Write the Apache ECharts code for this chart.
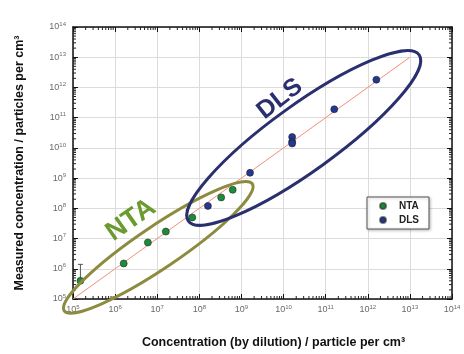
<!DOCTYPE html>
<html>
<head>
<meta charset="utf-8">
<script src="https://cdn.jsdelivr.net/npm/echarts@6/dist/echarts.min.js"></script>
<style>
html,body{margin:0;padding:0;background:#fff}
#chart{width:464px;height:354px}
</style>
</head>
<body>
<div id="chart"></div>
<script>
// values, particles per cm3
var ntaExpected = [1.5e5, 1.6e6, 6.0e6, 1.6e7, 6.8e7, 3.3e8, 6.2e8];
var ntaMeasured = [4.0e5, 1.5e6, 7.4e6, 1.7e7, 5.0e7, 2.3e8, 4.1e8];
var ntaErrorBar = [[1.5e5, 4.0e5, 1.4e6]];  // x, low, high

var dlsExpected = [1.6e8, 1.6e9, 1.6e10, 1.6e10, 1.6e10, 1.6e11, 1.6e12];
var dlsMeasured = [1.2e8, 1.5e9, 2.3e10, 1.6e10, 1.4e10, 1.9e11, 1.8e12];

var idealLine = [[1e5, 1e5], [1e13, 1e13]];

var axisMin = 1e5, axisMax = 1e14;
var decades = [5, 6, 7, 8, 9, 10, 11, 12, 13];
var minorMultipliers = [2, 3, 4, 5, 6, 7, 8, 9];

// ellipse annotations: two tips (log10 of value) + half width in px
var ntaLoop = {tips: [[4.79, 4.61], [9.26, 8.81]], half: 21, color: '#8c8b3e'};
var dlsLoop = {tips: [[7.74, 7.58], [13.22, 13.08]], half: 33, color: '#2a2f6e'};

var FONT = '"Liberation Sans", Arial, sans-serif';

function zip(a, b) {
	var out = [];
	for (var i = 0; i < a.length; i++) out.push([a[i], b[i]]);
	return out;
}

var minorTicks = [];
decades.forEach(function (d) {
	minorMultipliers.forEach(function (m) {
		minorTicks.push([m * Math.pow(10, d)]);
	});
});

var labelRich = {
	b: {fontSize: 9, color: '#6a6a6a', fontFamily: FONT},
	e: {fontSize: 6, color: '#6a6a6a', fontFamily: FONT, padding: [0, 0, 6, 0]}
};
function powLabel(v) {
	return '{b|10}{e|' + Math.round(Math.log10(v)) + '}';
}

var chart = echarts.init(document.getElementById('chart'));

var baseAxis = {
	type: 'log',
	logBase: 10,
	min: axisMin,
	max: axisMax,
	interval: 1,
	splitNumber: 9,
	axisLine: {show: true, onZero: false, lineStyle: {color: '#111', width: 1.5}},
	axisTick: {show: true, inside: true, length: 5, lineStyle: {color: '#111', width: 1}},
	splitLine: {show: false}
};

function mk(extra) {
	return Object.assign({}, JSON.parse(JSON.stringify(baseAxis)), extra);
}

var option = {
	animation: false,
	grid: {left: 73, right: 12, top: 27, bottom: 48, containLabel: false},
	xAxis: [
		mk({
			position: 'bottom',
			name: 'Concentration (by dilution) / particle per cm\u00b3',
			nameLocation: 'middle',
			nameGap: 37,
			nameTextStyle: {fontSize: 12.5, fontWeight: 'bold', color: '#111', fontFamily: FONT, padding: [0, 0, 0, 22]},
			axisLabel: {margin: 5, formatter: powLabel, rich: labelRich},
			splitLine: {show: true, lineStyle: {color: '#dcdcdc', width: 1}}
		}),
		mk({position: 'top', axisLabel: {show: false}})
	],
	yAxis: [
		mk({
			position: 'left',
			name: 'Measured concentration / particles per cm\u00b3',
			nameLocation: 'middle',
			nameGap: 47,
			nameTextStyle: {fontSize: 12.5, fontWeight: 'bold', color: '#111', fontFamily: FONT},
			axisLabel: {margin: 7, formatter: powLabel, rich: labelRich},
			splitLine: {show: true, lineStyle: {color: '#dcdcdc', width: 1}}
		}),
		mk({position: 'right', axisLabel: {show: false}})
	],
	legend: {
		data: ['NTA', 'DLS'],
		orient: 'vertical',
		left: 367,
		top: 197,
		padding: [4, 10, 4, 12],
		itemGap: 4,
		itemWidth: 6,
		itemHeight: 6,
		icon: 'circle',
		backgroundColor: '#fff',
		borderColor: '#555',
		borderWidth: 1,
		shadowColor: 'rgba(0,0,0,0.25)',
		shadowBlur: 3,
		shadowOffsetX: 1,
		shadowOffsetY: 1,
		textStyle: {fontSize: 10, fontWeight: 'bold', color: '#222', fontFamily: FONT, padding: [0, 0, 0, 8]}
	},
	series: [
		{
			name: 'ideal',
			type: 'line',
			data: idealLine,
			symbol: 'none',
			silent: true,
			lineStyle: {color: '#f2907a', width: 1},
			z: 2
		},
		{
			name: 'minor',
			type: 'custom',
			data: minorTicks,
			silent: true,
			clip: false,
			encode: {x: 0},
			renderItem: function (params, api) {
				var v = api.value(0);
				var cs = params.coordSys;
				var px = api.coord([v, axisMin])[0];
				var py = api.coord([axisMin, v])[1];
				var st = {stroke: '#222', lineWidth: 1};
				var kids = [];
				if (px > cs.x && px < cs.x + cs.width) {
					kids.push({type: 'line', shape: {x1: px, y1: cs.y + cs.height, x2: px, y2: cs.y + cs.height - 3}, style: st});
					kids.push({type: 'line', shape: {x1: px, y1: cs.y, x2: px, y2: cs.y + 3}, style: st});
				}
				if (py > cs.y && py < cs.y + cs.height) {
					kids.push({type: 'line', shape: {x1: cs.x, y1: py, x2: cs.x + 3, y2: py}, style: st});
					kids.push({type: 'line', shape: {x1: cs.x + cs.width, y1: py, x2: cs.x + cs.width - 3, y2: py}, style: st});
				}
				return {type: 'group', children: kids};
			},
			z: 3
		},
		{
			name: 'err',
			type: 'custom',
			data: ntaErrorBar,
			silent: true,
			encode: {x: 0, y: [1, 2]},
			renderItem: function (params, api) {
				var lo = api.coord([api.value(0), api.value(1)]);
				var hi = api.coord([api.value(0), api.value(2)]);
				var st = {stroke: '#555', lineWidth: 1};
				return {type: 'group', children: [
					{type: 'line', shape: {x1: lo[0], y1: lo[1], x2: hi[0], y2: hi[1]}, style: st},
					{type: 'line', shape: {x1: hi[0] - 2.5, y1: hi[1], x2: hi[0] + 2.5, y2: hi[1]}, style: st}
				]};
			},
			z: 4
		},
		{
			name: 'NTA',
			type: 'scatter',
			data: zip(ntaExpected, ntaMeasured),
			symbol: 'circle',
			symbolSize: 7,
			itemStyle: {color: '#1f8a3c', borderColor: 'rgba(20,40,20,0.55)', borderWidth: 1, opacity: 1},
			z: 5
		},
		{
			name: 'DLS',
			type: 'scatter',
			data: zip(dlsExpected, dlsMeasured),
			symbol: 'circle',
			symbolSize: 7,
			itemStyle: {color: '#23398f', borderColor: 'rgba(30,30,40,0.55)', borderWidth: 1, opacity: 1},
			z: 5
		}
	]
};

chart.setOption(option);

function loopGraphic(loop) {
	var a = chart.convertToPixel({xAxisIndex: 0, yAxisIndex: 0},
		[Math.pow(10, loop.tips[0][0]), Math.pow(10, loop.tips[0][1])]);
	var b = chart.convertToPixel({xAxisIndex: 0, yAxisIndex: 0},
		[Math.pow(10, loop.tips[1][0]), Math.pow(10, loop.tips[1][1])]);
	var dx = b[0] - a[0], dy = b[1] - a[1];
	return {
		type: 'ellipse',
		x: (a[0] + b[0]) / 2,
		y: (a[1] + b[1]) / 2,
		rotation: Math.atan2(-dy, dx),
		shape: {cx: 0, cy: 0, rx: Math.sqrt(dx * dx + dy * dy) / 2, ry: loop.half},
		style: {fill: 'rgba(0,0,0,0)', stroke: loop.color, lineWidth: 3},
		silent: true,
		z: 6
	};
}

chart.setOption({
	graphic: [
		loopGraphic(ntaLoop),
		loopGraphic(dlsLoop),
		{
			type: 'text', x: 131, y: 220, rotation: 35 * Math.PI / 180, z: 7,
			style: {text: 'NTA', fill: '#6b9a2e', font: 'bold 27px ' + FONT, textAlign: 'center', textVerticalAlign: 'middle'}
		},
		{
			type: 'text', x: 280, y: 99, rotation: 38 * Math.PI / 180, z: 7,
			style: {text: 'DLS', fill: '#2a2f6e', font: 'bold 25px ' + FONT, textAlign: 'center', textVerticalAlign: 'middle'}
		}
	]
});
</script>
</body>
</html>
